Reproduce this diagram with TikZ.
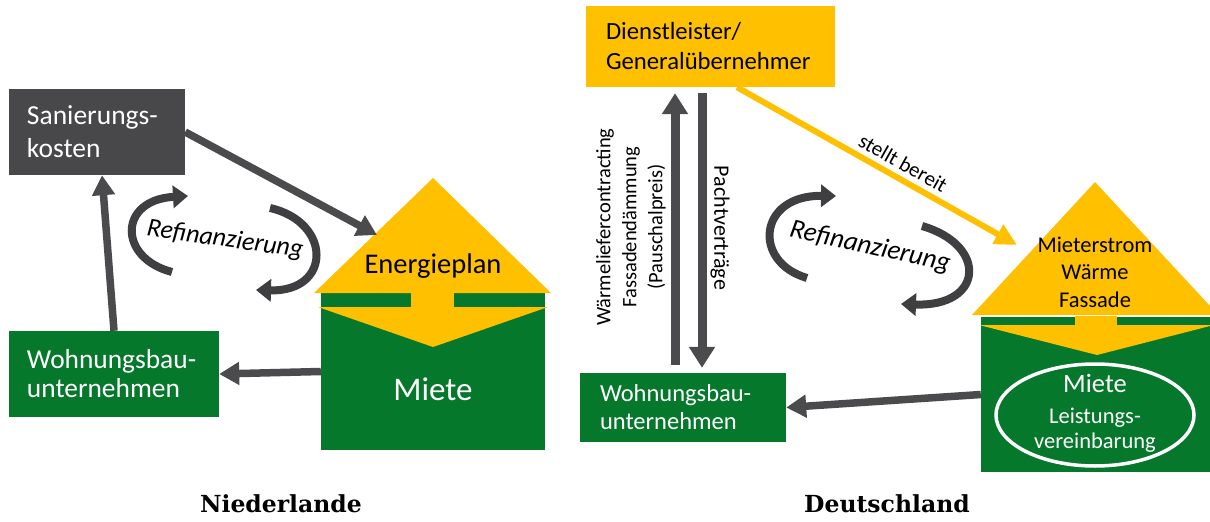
\documentclass[tikz,border=0pt]{standalone}
\usepackage{fontspec}
\setmainfont{Carlito}
\newfontfamily\serifbold{DejaVu Serif}
\usetikzlibrary{arrows.meta,shapes.geometric,calc}
\definecolor{gold}{HTML}{FFC000}
\definecolor{dgreen}{HTML}{05782B}
\definecolor{boxgray}{HTML}{48484A}
\definecolor{arrgray}{HTML}{4B4B4D}
\definecolor{ribgray}{HTML}{3F3F41}
\newcommand{\fsz}[2]{\fontsize{#1}{#2}\selectfont}
\begin{document}
\begin{tikzpicture}[x=1pt,y=-1pt,
  boxnode/.style={rectangle, inner sep=0pt, align=left},
  garrow/.style={draw=arrgray, line width=7.5pt, -{Triangle[width=22pt,length=20pt]}},
  varrow/.style={draw=arrgray, line width=9pt, -{Triangle[width=25pt,length=21pt]}},
  yarrow/.style={draw=gold, line width=6pt, -{Triangle[width=21pt,length=22pt]}},
  ribbon/.style={draw=ribgray, line width=8pt, -{Triangle[width=22pt,length=15pt]}},
  housetext/.style={font=\fsz{22.5}{27.5}, align=center},
  titletext/.style={font=\serifbold\bfseries\fsz{23.5}{28}, anchor=base},
  refitext/.style={font=\itshape\fsz{26}{30}}
]
\useasboundingbox (0,0) rectangle (1210,522);

% ---------------- Niederlande ----------------
\node[boxnode, fill=boxgray, text=white, minimum width=176pt, minimum height=86pt,
      text width=140pt, font=\fsz{27.5}{33}] (san) at (97,132) {Sanierungs-\\kosten};
\node[boxnode, fill=dgreen, text=white, minimum width=210pt, minimum height=86pt,
      text width=174pt, font=\fsz{27.4}{29}] (lwohn) at (114,374) {Wohnungsbau-\\unternehmen};

% house left
\node[rectangle, fill=dgreen, minimum width=224pt, minimum height=157pt, inner sep=0pt] (lbody) at (433,371.5) {};
\fill[gold] (314,293) -- (433,178) -- (551,293) -- cycle;
\fill[gold] (411,292) rectangle (454,308);
\fill[gold] (318,307) -- (548,307) -- (433,347) -- cycle;
\node[font=\fsz{28.5}{32}, anchor=base] (eplan) at (433,273) {Energieplan};
\node[font=\fsz{33}{36}, text=white, anchor=base] (lmiete) at (433,400) {Miete};
\coordinate (lroof) at (377,235);

\draw[garrow] (san.east) -- (lroof);
\draw[garrow] (lwohn.north) -- ([xshift=5pt]san.south);
\draw[garrow] (lbody.west) -- (lwohn.east);

% Refinanzierung left
\node[refitext, rotate=-8] (lrefi) at (225,240) {Refinanzierung};
\draw[ribbon] (172,272) .. controls (118,258) and (118,200) .. (188,196);
\draw[ribbon] (270,208) .. controls (332,222) and (332,292) .. (256,290);

\node[titletext] (nl) at (281,512) {Niederlande};

% ---------------- Deutschland ----------------
\node[boxnode, fill=gold, text=black, minimum width=249pt, minimum height=81pt,
      text width=209pt, font=\fsz{24.7}{30}] (dienst) at (710.5,46.5) {Dienstleister/\\Generalübernehmer};
\node[boxnode, fill=dgreen, text=white, minimum width=206pt, minimum height=69pt,
      text width=166pt, font=\fsz{24.5}{28}] (rwohn) at (683,407.5) {Wohnungsbau-\\unternehmen};

% house right
\node[rectangle, fill=dgreen, minimum width=229pt, minimum height=155pt, inner sep=0pt] (rbody) at (1095.5,394.5) {};
\fill[gold] (972,315) -- (1095,182) -- (1210,306) -- (1210,315) -- cycle;
\fill[gold] (1075,316) rectangle (1117,326);
\fill[gold] (979,325) -- (1210,325) -- (1210,326) -- (1097,355) -- cycle;
\node[housetext] (rroof) at (1095,272) {Mieterstrom\\Wärme\\Fassade};
\node[ellipse, draw=white, line width=3.5pt, minimum width=198pt, minimum height=102pt, inner sep=0pt] (ell) at (1095,415) {};
\node[font=\fsz{26.5}{30}, text=white, anchor=base] (rmiete) at (1095,392) {Miete};
\node[font=\fsz{22.5}{26}, text=white, anchor=base] (leist) at (1095,423) {Leistungs-};
\node[font=\fsz{22.5}{26}, text=white, anchor=base] (verein) at (1095,448) {vereinbarung};
\coordinate (rroofpt) at (1017,245);

\draw[yarrow] ([xshift=26.5pt]dienst.south) -- (rroofpt);
\node[font=\fsz{21}{24}, rotate=-29.4] (sb) at (903,163) {stellt bereit};

\draw[varrow, shorten <=8pt, shorten >=6pt] ([xshift=-8pt]rwohn.north) -- ([xshift=-35.5pt]dienst.south);
\draw[varrow, shorten <=6pt, shorten >=5pt] ([xshift=-8.5pt]dienst.south) -- ([xshift=19pt]rwohn.north);
\node[font=\fsz{20.5}{26}, align=center, rotate=90] (vtext) at (631,227) {Wärmeliefercontracting\\Fassadendämmung\\(Pauschalpreis)};
\node[font=\fsz{22}{26}, rotate=-90] (pacht) at (720,228) {Pachtverträge};

\draw[garrow] (rbody.west) -- (rwohn.east);

% Refinanzierung right
\node[refitext, font=\itshape\fsz{27}{30}, rotate=-12.5] (rrefi) at (870,247) {Refinanzierung};
\draw[ribbon] (807,278) .. controls (752,262) and (758,195) .. (836,196);
\draw[ribbon] (922,226) .. controls (988,245) and (984,307) .. (901,304);

\node[titletext] (de) at (887,512) {Deutschland};
\end{tikzpicture}
\end{document}
